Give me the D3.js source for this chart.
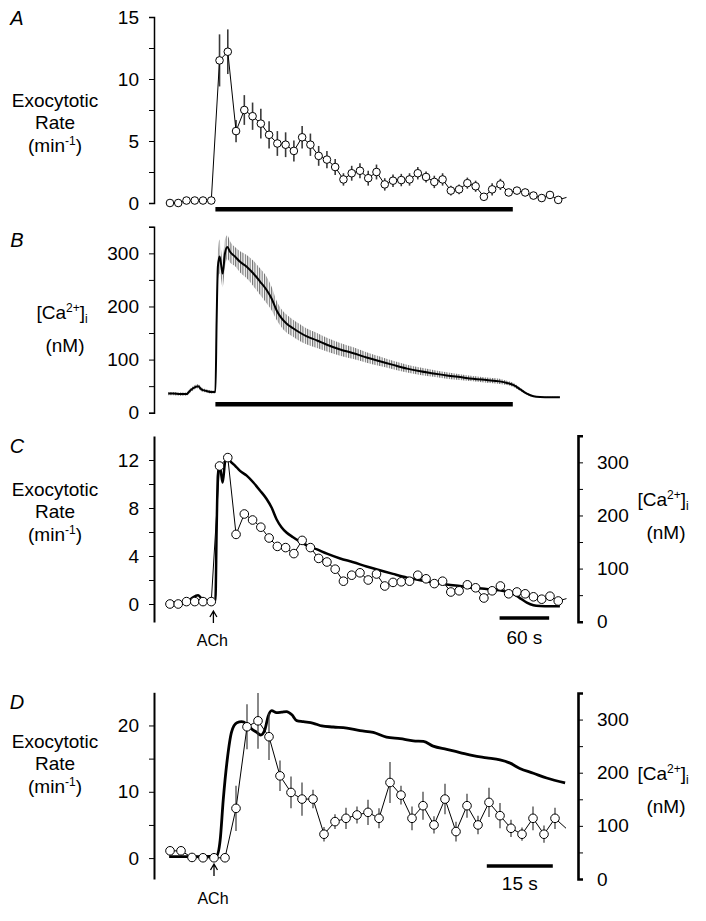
<!DOCTYPE html>
<html>
<head>
<meta charset="utf-8">
<script src="https://cdn.jsdelivr.net/npm/d3@7"></script>
<style>
body { margin: 0; background: #fff; }
svg text { font-family: "Liberation Sans", Arial, Helvetica, sans-serif; fill: #000; }
</style>
</head>
<body>
<svg id="chart" width="706" height="921"></svg>
<script>
// ---- data ----
// binned exocytotic rate (panels A and C), bin centres in s after ACh
const binTimes = [-55,-45,-35,-25,-15,-5,5,15,25,35,45,55,65,75,85,95,105,115,125,135,145,155,165,175,185,195,205,215,225,235,245,255,265,275,285,295,305,315,325,335,345,355,365,375,385,395,405,415,425];
const rateMean = [0.0,0.0,0.2,0.2,0.2,0.2,11.5,12.2,5.8,7.5,7.0,6.4,5.5,4.8,4.7,4.2,5.3,4.7,3.8,3.5,2.9,1.9,2.4,2.6,2.0,2.5,1.5,1.8,1.85,1.9,2.4,2.1,1.7,1.9,1.0,1.1,1.6,1.35,0.5,1.1,1.5,0.85,1.0,0.85,0.6,0.4,0.65,0.25,0.45];
const rateErr  = [0.1,0.1,0.1,0.1,0.1,0.1,2.1,1.8,0.9,1.2,1.1,1.2,1.1,1.0,1.0,0.85,0.9,0.9,0.8,0.7,0.65,0.5,0.6,0.6,0.6,0.6,0.5,0.5,0.5,0.5,0.5,0.45,0.5,0.5,0.4,0.4,0.45,0.45,0.3,0.5,0.45,0.3,0.3,0.3,0.3,0.3,0.3,0.3,0.3];

// averaged [Ca2+]i trace (panels B and C), nM
const caTimes = [-57,-51,-43,-35,-31,-27,-21,-17,-11,-4.5,0,1.5,3,5,6.4,8.8,11.6,14.4,17.7,23.7,29.8,37.9,46,54,62,68,74,80,86,94,102,110,123,135,151,167,183,199,215,232,248,264,280,296,312,328,344,353,361,369,377,385,393,405,417];
const caMean  = [36,36,35,35,41,46,50,44,41,39,39,174,275,294,284,262,300,312,303,294,284,275,262,247,231,215,193,178,168,159,151,144,136,128,119,112,104,97,90,83,78,74,70,67,64,61.5,59,56,52,44,36,31,29.5,29,29];
const caErr   = [3,3,3,3,4,4,4,4,3,3,3,20,25,32,28,26,26,22,20,18,20,22,24,25,25,22,18,17,17,16,16,15,14,13,12,11,10,9,8,7.5,7,6.5,6,5.5,5,5,5,4,4,3,2,1.5,1,1,1];

// panel D: fast time course, 2.5 s bins
const binTimesD = [-10,-7.5,-5,-2.5,0,2.5,5,7.5,10,12.5,15,17.5,20,22.5,25,27.5,30,32.5,35,37.5,40,42.5,45,47.5,50,52.5,55,57.5,60,62.5,65,67.5,70,72.5,75,77.5,80];
const rateMeanD = [1.1,1.1,0.1,0.05,0.05,0.05,7.5,19.8,20.7,18.3,12.4,9.9,8.9,8.9,3.6,5.5,6.0,6.5,6.9,6.0,11.4,9.5,6.0,7.9,5.0,8.9,4.0,7.9,5.0,8.4,6.4,4.5,3.6,6.0,3.6,6.0,4.5];
const rateErrD  = [0.3,0.3,0.2,0.2,0.2,0.2,3.4,3.4,4.2,3.5,2.3,2.4,2.5,1.4,1.1,1.1,1.6,1.3,1.9,1.5,3.1,1.4,1.8,2.1,1.3,2.3,1.5,1.8,1.4,2.2,1.9,1.3,1.0,1.8,1.3,1.6,1.0];
const caTimesD = [-10.2,-5.5,0.6,1.4,2.1,3.0,4.0,5.2,6.3,7.4,8.6,9.7,10.6,11.6,12.3,13.1,14.2,15.4,16.5,17.7,18.8,20.3,22.6,24.5,27.1,30.2,33.2,36.2,39.2,42.3,45.3,47.6,49.8,52.9,55.9,58.9,62,65,67.3,69.5,72.6,75.6,79.8];
const caMeanD  = [42,42,43,73,149,224,277,294,296,292,282,276,271,282,306,317,313,314,315,309,298,296,293,288,286,284,279,276,267,264,260,259,250,244,238,232,228,224,218,208,199,190,181];

// ticks
const ticksA = [0,2.5,5,7.5,10,12.5,15],      labelsA = [0,5,10,15];
const ticksCa = [0,50,100,150,200,250,300,350], labelsCa = [0,100,200,300];
const ticksC = [0,2,4,6,8,10,12],             labelsC = [0,4,8,12];
const ticksD = [0,5,10,15,20],                labelsD = [0,10,20];

const stimOn = 0, stimOff = 360;   // ACh application (s)

const rows = binTimes.map((t, i) => ({t: t, v: rateMean[i], e: rateErr[i]}));
const caRows = caTimes.map((t, i) => ({t: t, v: caMean[i], e: caErr[i]}));
const rowsD = binTimesD.map((t, i) => ({t: t, v: rateMeanD[i], e: rateErrD[i]}));
const caRowsD = caTimesD.map((t, i) => ({t: t, v: caMeanD[i]}));

const svg = d3.select("#chart");

// stripes for the B error band
svg.append("defs").append("pattern")
    .attr("id", "vstripes")
    .attr("patternUnits", "userSpaceOnUse")
    .attr("width", 2.4).attr("height", 6)
  .append("rect")
    .attr("width", 1.1).attr("height", 6)
    .attr("fill", "#6a6a6a");

// ---- scales ----
const x = d3.scaleLinear().domain([0, 360]).range([215.4, 512.8]);
const xD = d3.scaleLinear().domain([0, 15]).range([214, 280]);
const xMax = 561;

const yA = d3.scaleLinear().domain([0, 15]).range([203, 17]);
const yB = d3.scaleLinear().domain([0, 350]).range([412.7, 226.8]);
const yC = d3.scaleLinear().domain([-1.5, 14]).range([622, 436]);
const yCr = d3.scaleLinear().domain([0, 350]).range([621.7, 435.8]);
const yD = d3.scaleLinear().domain([-3.15, 25]).range([879, 692.3]);
const yDr = d3.scaleLinear().domain([0, 350]).range([879, 693]);

// ---- helpers ----
function leftAxis(scale, ticks, labels, outer, width) {
    const g = svg.append("g")
        .attr("transform", "translate(154,0)")
        .call(d3.axisLeft(scale)
            .tickValues(ticks)
            .tickFormat(d => labels.includes(d) ? d : "")
            .tickSize(5).tickSizeOuter(outer).tickPadding(10));
    styleAxis(g, width);
}

function rightAxis(scale) {
    const g = svg.append("g")
        .attr("transform", "translate(578,0)")
        .call(d3.axisRight(scale)
            .tickValues(ticksCa)
            .tickFormat(d => labelsCa.includes(d) ? d : "")
            .tickSize(5).tickSizeOuter(5).tickPadding(14));
    styleAxis(g, 2.6);
}

function styleAxis(g, width) {
    g.select(".domain").attr("stroke", "#000").attr("stroke-width", width);
    g.selectAll(".tick line").attr("stroke", "#000").attr("stroke-width", 1);
    g.selectAll(".tick text").style("font-size", "19px").attr("fill", "#000");
}

function errorBars(data, xs, ys, width) {
    svg.append("g").selectAll("line")
        .data(data.filter(d => xs(d.t) <= xMax))
        .join("line")
        .attr("x1", d => xs(d.t)).attr("x2", d => xs(d.t))
        .attr("y1", d => ys(d.v - d.e)).attr("y2", d => ys(d.v + d.e))
        .attr("stroke", "#3a3a3a").attr("stroke-width", width);
}

function rateTrace(data, xs, ys, r) {
    svg.append("path")
        .datum(data)
        .attr("fill", "none").attr("stroke", "#000").attr("stroke-width", 1)
        .attr("d", d3.line().x(d => xs(d.t)).y(d => ys(d.v)));
    svg.append("g").selectAll("circle")
        .data(data.filter(d => xs(d.t) <= xMax))
        .join("circle")
        .attr("cx", d => xs(d.t)).attr("cy", d => ys(d.v))
        .attr("r", r)
        .attr("fill", "#fff").attr("stroke", "#000").attr("stroke-width", 1);
}

function caLine(data, xs, ys, width) {
    svg.append("path")
        .datum(data)
        .attr("fill", "none").attr("stroke", "#000")
        .attr("stroke-width", width).attr("stroke-linejoin", "round")
        .attr("d", d3.line().x(d => xs(d.t)).y(d => ys(d.v)).curve(d3.curveMonotoneX));
}

function label(xc, yc, size, parts, italic) {
    const t = svg.append("text")
        .attr("x", xc).attr("y", yc)
        .attr("text-anchor", "middle")
        .style("font-size", size + "px");
    if (italic) t.style("font-style", "italic");
    parts.forEach(p => {
        const s = t.append("tspan").text(p.s);
        if (p.dy) s.attr("dy", p.dy);
        if (p.size) s.style("font-size", p.size + "px");
    });
    return t;
}

function rateLabel(yTop) {
    label(55, yTop, 19, [{s: "Exocytotic"}]);
    label(55, yTop + 22, 19, [{s: "Rate"}]);
    label(55, yTop + 45, 19, [{s: "(min"}, {s: "-1", dy: -7, size: 12}, {s: ")", dy: 7}]);
}

function caLabel(xc, yTop) {
    label(xc, yTop, 19, [{s: "[Ca"}, {s: "2+", dy: -7, size: 12}, {s: "]", dy: 7}, {s: "i", dy: 4, size: 12}]);
    label(xc + 3, yTop + 33, 19, [{s: "(nM)"}]);
}

function achArrow(xc, yTip, yText) {
    svg.append("path")
        .attr("d", `M${xc},${yTip + 12}V${yTip}M${xc - 3.5},${yTip + 6}L${xc},${yTip}L${xc + 3.5},${yTip + 6}`)
        .attr("fill", "none").attr("stroke", "#000").attr("stroke-width", 1.3);
    label(xc - 1, yText, 16, [{s: "ACh"}]);
}

// ---- panel A ----
label(17, 25, 20, [{s: "A"}], true);
rateLabel(107);
leftAxis(yA, ticksA, labelsA, 5, 1.5);
errorBars(rows, x, yA, 1.6);
rateTrace(rows, x, yA, 3.8);
svg.append("rect")
    .attr("x", x(stimOn)).attr("width", x(stimOff) - x(stimOn))
    .attr("y", 207).attr("height", 4.5).attr("fill", "#000");

// ---- panel B ----
label(17, 247, 20, [{s: "B"}], true);
caLabel(62, 319);
leftAxis(yB, ticksCa, labelsCa, 5, 1.5);
svg.append("path")
    .datum(caRows)
    .attr("fill", "url(#vstripes)")
    .attr("d", d3.area().x(d => x(d.t)).y0(d => yB(d.v - d.e)).y1(d => yB(d.v + d.e)).curve(d3.curveMonotoneX));
caLine(caRows, x, yB, 2);
svg.append("rect")
    .attr("x", x(stimOn)).attr("width", x(stimOff) - x(stimOn))
    .attr("y", 402).attr("height", 4.5).attr("fill", "#000");

// ---- panel C ----
label(17, 453, 20, [{s: "C"}], true);
rateLabel(496);
leftAxis(yC, ticksC, labelsC, 0, 2);
rightAxis(yCr);
caLabel(663, 506);
caLine(caRows, x, yCr, 2.5);
rateTrace(rows, x, yC, 4.3);
achArrow(x(stimOn) - 2, 611, 646);
svg.append("line")
    .attr("x1", x(404 - 60)).attr("x2", x(404))
    .attr("y1", 618).attr("y2", 618)
    .attr("stroke", "#000").attr("stroke-width", 3.5);
label(x(404 - 30), 644, 19, [{s: "60 s"}]);

// ---- panel D ----
label(17, 709, 20, [{s: "D"}], true);
rateLabel(748);
leftAxis(yD, ticksD, labelsD, 0, 2);
rightAxis(yDr);
caLabel(663, 780);
caLine(caRowsD, xD, yDr, 2.8);
errorBars(rowsD, xD, yD, 1.2);
rateTrace(rowsD, xD, yD, 4.3);
achArrow(xD(0), 864, 904);
svg.append("line")
    .attr("x1", xD(77 - 15)).attr("x2", xD(77))
    .attr("y1", 866).attr("y2", 866)
    .attr("stroke", "#000").attr("stroke-width", 3.5);
label(xD(77 - 7.5), 890, 19, [{s: "15 s"}]);
</script>
</body>
</html>
